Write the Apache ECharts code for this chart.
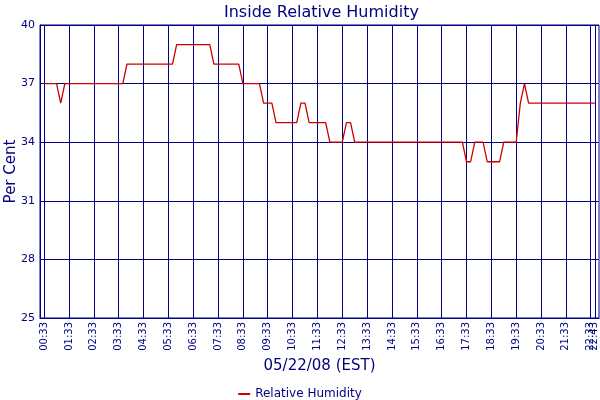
<!DOCTYPE html>
<html>
<head>
<meta charset="utf-8">
<script src="https://cdn.jsdelivr.net/npm/echarts@6/dist/echarts.min.js"></script>
<style>
  html, body { margin: 0; padding: 0; background: #fff; }
  #chart { width: 600px; height: 400px; }
</style>
</head>
<body>
<div id="chart"></div>
<script>
// turning points of the humidity trace (10 minute samples)
var times = ['00:33', '01:03', '01:13', '01:23', '03:43', '03:53', '05:43', '05:53',
    '07:13', '07:23', '08:23', '08:33', '09:13', '09:23', '09:43', '09:53',
    '10:43', '10:53', '11:03', '11:13', '11:53', '12:03', '12:33', '12:43',
    '12:53', '13:03', '17:23', '17:33', '17:43', '17:53', '18:13', '18:23',
    '18:53', '19:03', '19:33', '19:43', '19:53', '20:03', '22:43'];
var humidity = [37, 37, 36, 37, 37, 38, 38, 39,
    39, 38, 38, 37, 37, 36, 36, 35,
    35, 36, 36, 35, 35, 34, 34, 35,
    35, 34, 34, 33, 33, 34, 34, 33,
    33, 34, 34, 36, 37, 36, 36];
var tickLabels = ['00:33', '01:33', '02:33', '03:33', '04:33', '05:33', '06:33', '07:33',
    '08:33', '09:33', '10:33', '11:33', '12:33', '13:33', '14:33', '15:33',
    '16:33', '17:33', '18:33', '19:33', '20:33', '21:33', '22:33'];
var lastTick = ['22:43'];
var seriesName = 'Relative Humidity';

function toMin(s) {
    var p = s.split(':');
    return +p[0] * 60 + +p[1];
}
function fmt(m) {
    var h = Math.floor(m / 60), mm = m % 60;
    return (h < 10 ? '0' : '') + h + ':' + (mm < 10 ? '0' : '') + mm;
}

var navy = '#000080';

// the two last labels sit on top of each other, so the last one gets its own axis
function timeAxis(ticks, main) {
    var vals = ticks.map(toMin);
    return {
        type: 'value',
        position: 'bottom',
        min: 23,
        max: 1373,
        name: main ? '05/22/08 (EST)' : '',
        nameLocation: 'middle',
        nameGap: 40,
        nameTextStyle: { color: navy, fontSize: 15 },
        axisLine: { show: main, lineStyle: { color: navy } },
        axisTick: { show: false, customValues: vals },
        axisLabel: {
            customValues: vals,
            rotate: 90,
            margin: 4,
            hideOverlap: false,
            color: navy,
            fontSize: 10,
            formatter: function (v) { return fmt(v); }
        },
        splitLine: { show: true, lineStyle: { color: navy, width: 1 } }
    };
}

var myChart = echarts.init(document.getElementById('chart'));
option = {
    animation: false,
    backgroundColor: '#fff',
    textStyle: { fontFamily: 'DejaVu Sans' },
    title: {
        text: 'Inside Relative Humidity',
        left: 219,
        top: 0,
        textStyle: { color: navy, fontSize: 16, fontWeight: 'normal' }
    },
    legend: {
        data: [seriesName],
        top: 383,
        left: 'center',
        icon: 'rect',
        itemWidth: 12,
        itemHeight: 2,
        itemGap: 5,
        textStyle: { color: navy, fontSize: 12 }
    },
    grid: {
        left: 40, right: 1, top: 25, bottom: 82,
        outerBoundsMode: 'none',
        show: true, borderColor: navy, borderWidth: 1
    },
    xAxis: [timeAxis(tickLabels, true), timeAxis(lastTick, false)],
    yAxis: {
        type: 'value',
        min: 25,
        max: 40,
        interval: 3,
        name: 'Per Cent',
        nameLocation: 'middle',
        nameGap: 21,
        nameMoveOverlap: false,
        nameTextStyle: { color: navy, fontSize: 15 },
        axisLine: { show: true, lineStyle: { color: navy } },
        axisTick: { show: false },
        axisLabel: { color: navy, fontSize: 11, margin: 5 },
        splitLine: { show: true, lineStyle: { color: navy, width: 1 } }
    },
    series: [{
        name: seriesName,
        type: 'line',
        xAxisIndex: 0,
        symbol: 'none',
        color: '#cc0000',
        lineStyle: { width: 1.3 },
        data: times.map(function (t, i) { return [toMin(t), humidity[i]]; })
    }]
};
myChart.setOption(option);
</script>
</body>
</html>
